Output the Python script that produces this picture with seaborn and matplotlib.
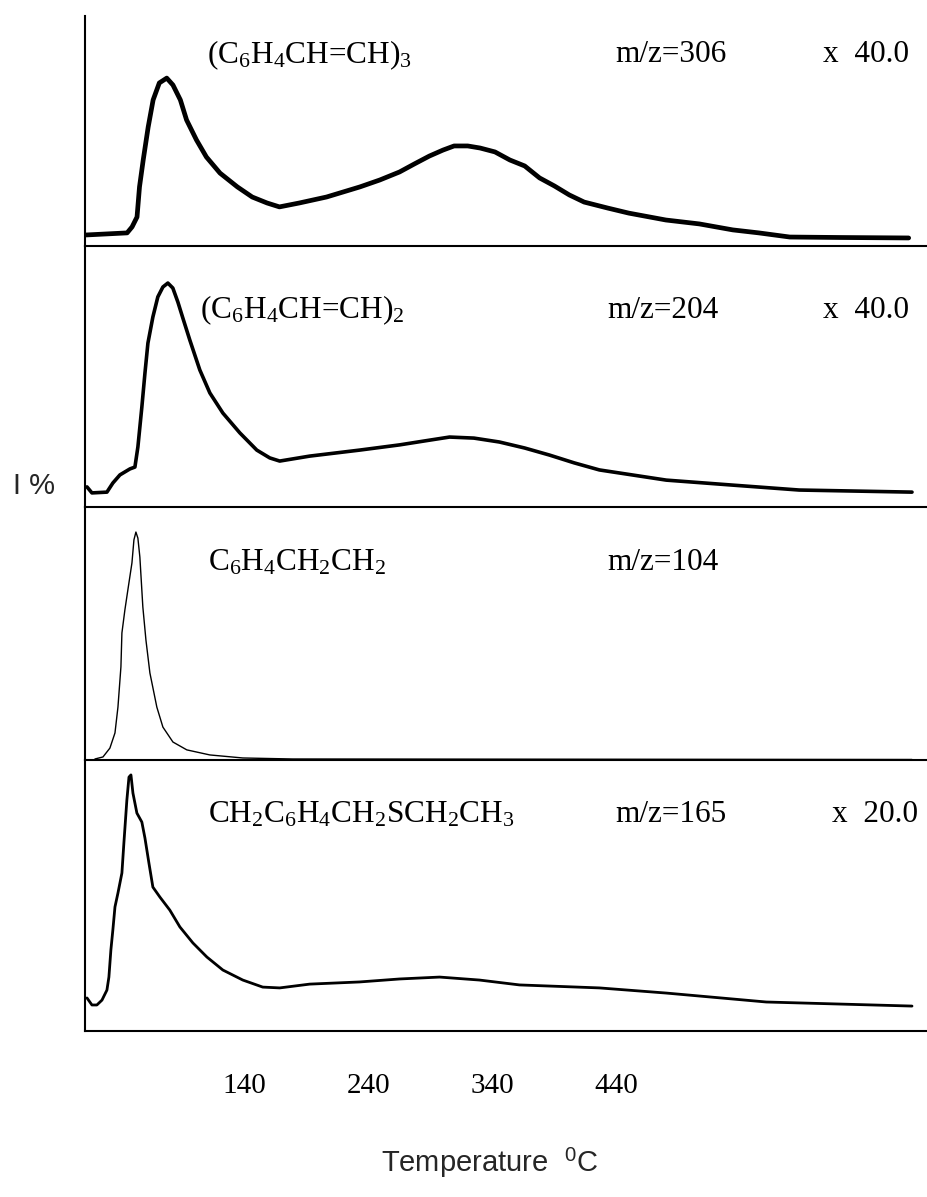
import numpy as np
import pandas as pd
import matplotlib
matplotlib.use("Agg")
import matplotlib.pyplot as plt
import seaborn as sns

# ---------------- data (temperature in degC, intensity in % of panel height) ----------------
t_306 = [12, 45, 49, 53, 55, 58, 62, 66, 71, 77, 82, 88, 93, 101, 109, 120, 134, 146, 158,
         168, 184, 206, 233, 249, 265, 277, 289, 300, 309, 320, 330, 342, 354, 366, 378, 390,
         402, 414, 433, 450, 480, 507, 534, 555, 580, 620, 676]
i_306 = [4.8, 5.7, 8.3, 12.6, 25.7, 37.4, 51.7, 63.5, 70.9, 73.0, 70.0, 63.5, 54.8, 46.1,
         38.7, 31.7, 25.7, 21.3, 18.7, 17.0, 18.7, 21.3, 25.7, 28.7, 32.2, 35.7, 39.1, 41.7,
         43.5, 43.5, 42.6, 40.9, 37.4, 34.8, 29.6, 26.1, 22.2, 19.1, 16.5, 14.3, 11.3, 9.6,
         7.0, 5.7, 3.9, 3.7, 3.5]

t_204 = [12.6, 16.6, 28.7, 33.5, 39.2, 47.3, 51.3, 53.7, 56.9, 59.4, 61.8, 65.8, 69.8, 73.9,
         77.9, 81.9, 86.0, 90.0, 95.6, 103.7, 111.8, 122.3, 136.0, 149.7, 160.2, 168.2, 192.4,
         232.7, 265.0, 285.0, 305.3, 325.0, 345.6, 366.0, 386.0, 406.0, 426.3, 480.3, 533.5,
         587.6, 678.7]
i_204 = [7.7, 5.4, 5.7, 9.2, 12.3, 14.6, 15.3, 23.0, 38.3, 51.3, 62.8, 72.8, 80.5, 84.3,
         85.8, 83.9, 78.5, 72.4, 64.0, 52.5, 43.7, 36.0, 28.4, 21.8, 18.8, 17.6, 19.5, 21.8,
         23.8, 25.3, 26.8, 26.4, 24.9, 22.6, 19.9, 16.9, 14.2, 10.3, 8.4, 6.5, 5.7]

t_104 = [19.0, 25.5, 31.1, 35.2, 37.6, 40.0, 40.8, 43.2, 45.6, 48.9, 50.5, 52.1, 53.7, 55.3,
         57.7, 60.2, 63.4, 69.0, 73.9, 82.0, 93.2, 111.8, 138.4, 178.7, 678.7]
i_104 = [0.4, 1.2, 4.7, 10.7, 20.9, 36.8, 50.2, 59.3, 67.2, 77.9, 87.0, 90.1, 87.7, 80.2,
         60.5, 47.4, 34.4, 20.9, 13.0, 7.1, 4.0, 2.0, 0.8, 0.4, 0.2]

t_165 = [12.6, 16.6, 20.6, 24.7, 28.7, 30.3, 31.9, 33.5, 35.2, 37.6, 40.8, 42.4, 44.8, 46.5,
         48.1, 49.7, 52.9, 56.9, 59.4, 62.6, 65.8, 71.5, 79.5, 87.6, 98.1, 109.4, 122.3, 138.4,
         154.5, 168.2, 192.4, 232.7, 265.0, 297.3, 329.5, 361.8, 426.3, 480.3, 561.0, 678.7]
i_165 = [12.2, 9.6, 9.6, 11.4, 15.1, 19.9, 29.9, 37.3, 45.8, 50.9, 58.3, 69.4, 85.2, 93.7,
         94.5, 87.8, 80.4, 77.1, 71.2, 62.0, 53.1, 49.4, 44.6, 38.4, 32.5, 27.3, 22.5, 18.8,
         16.2, 15.9, 17.3, 18.1, 19.2, 19.9, 18.8, 17.0, 15.9, 14.0, 10.7, 9.2]

formulas = [r'(C$_{\mathrm{6}}$H$_{\mathrm{4}}$CH=CH)$_{\mathrm{3}}$',
            r'(C$_{\mathrm{6}}$H$_{\mathrm{4}}$CH=CH)$_{\mathrm{2}}$',
            r'C$_{\mathrm{6}}$H$_{\mathrm{4}}$CH$_{\mathrm{2}}$CH$_{\mathrm{2}}$',
            r'CH$_{\mathrm{2}}$C$_{\mathrm{6}}$H$_{\mathrm{4}}$CH$_{\mathrm{2}}$SCH$_{\mathrm{2}}$CH$_{\mathrm{3}}$']
mz_labels = ['m/z=306', 'm/z=204', 'm/z=104', 'm/z=165']
scale_labels = ['x  40.0', 'x  40.0', '', 'x  20.0']
tick_values = [140, 240, 340, 440]
tick_labels = ['140', '240', '340', '440']

series = [(t_306, i_306), (t_204, i_204), (t_104, i_104), (t_165, i_165)]

# ---------------- style ----------------
sns.set_theme(style="white")
plt.rcParams['font.family'] = ['Liberation Serif', 'DejaVu Serif']
plt.rcParams['mathtext.fontset'] = 'custom'
plt.rcParams['mathtext.rm'] = 'Liberation Serif'
plt.rcParams['mathtext.it'] = 'Liberation Serif:italic'
plt.rcParams['mathtext.sf'] = 'Liberation Sans'

W, H = 928, 1197
fig = plt.figure(figsize=(W / 100, H / 100), dpi=100)

x_left, x_right = 85, 927
panel_edges = [16, 246, 507, 760, 1031]
line_widths = [3.4, 2.6, 1.0, 2.0]
xlim = (11.0, 690.8)

for k in range(4):
    top, bot = panel_edges[k], panel_edges[k + 1]
    ax = fig.add_axes([x_left / W, 1 - bot / H, (x_right - x_left) / W, (bot - top) / H])
    t, v = series[k]
    df = pd.DataFrame({'T': t, 'I': v})
    sns.lineplot(data=df, x='T', y='I', ax=ax, color='black', lw=line_widths[k])
    ax.set_xlim(*xlim)
    ax.set_ylim(0, 100)
    ax.set_xlabel('')
    ax.set_ylabel('')
    ax.set_yticks([])
    for s in ['top', 'right']:
        ax.spines[s].set_visible(False)
    for s in ['left', 'bottom']:
        ax.spines[s].set_color('black')
        ax.spines[s].set_linewidth(1.5)
    ax.patch.set_alpha(0)
    if k < 3:
        ax.set_xticks([])
    else:
        ax.set_xticks(tick_values)
        ax.set_xticklabels(tick_labels, fontsize=21, fontfamily='Liberation Serif')
        ax.tick_params(axis='x', length=0, pad=30, colors='black')

# panel annotations (pixel positions converted to figure fractions)
rows_y = [55, 310, 563, 815]
form_x = [207, 200, 208, 208]
mz_x = [615, 607, 607, 615]
sc_x = [823, 823, 823, 832]
for k in range(4):
    yf = 1 - rows_y[k] / H
    fig.text(form_x[k] / W, yf, formulas[k], fontsize=22.5, va='center', ha='left', color='black')
    fig.text(mz_x[k] / W, yf, mz_labels[k], fontsize=22.5, va='center', ha='left', color='black')
    if scale_labels[k]:
        fig.text(sc_x[k] / W, yf, scale_labels[k], fontsize=22.5, va='center', ha='left', color='black')

fig.text(34 / W, 1 - 486 / H, 'I %', fontsize=21, family='Liberation Sans', ha='center', va='center')
fig.text(490 / W, 1 - 1163 / H, r'Temperature  $^{\mathsf{0}}$C', fontsize=21, family='Liberation Sans',
         ha='center', va='center')

fig.savefig('out.png', dpi=100)
